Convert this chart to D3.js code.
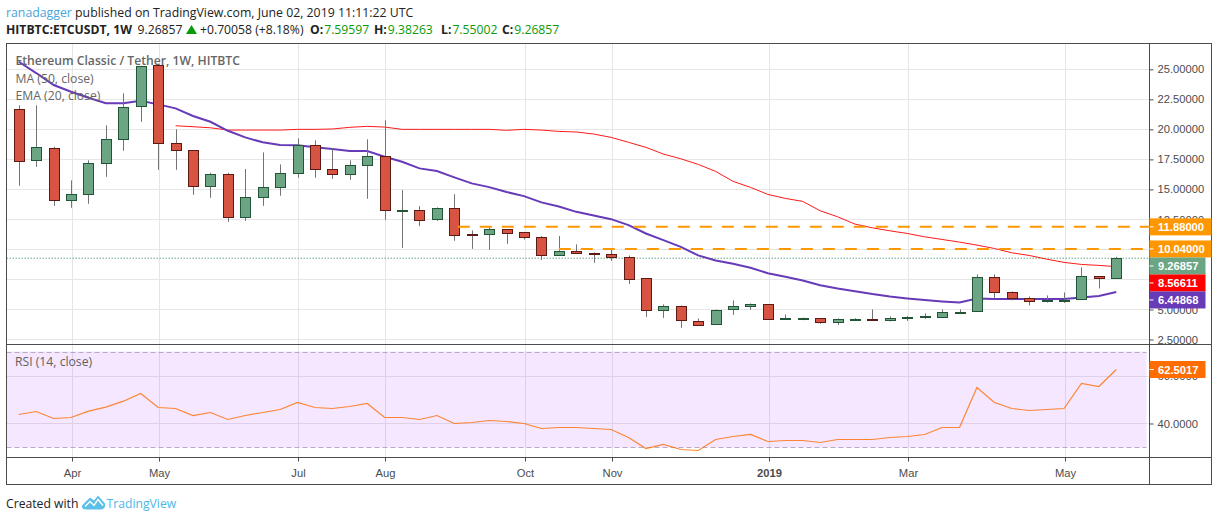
<!DOCTYPE html>
<html>
<head>
<meta charset="utf-8">
<title>ETCUSDT</title>
<script src="https://cdn.jsdelivr.net/npm/d3@7/dist/d3.min.js"></script>
<style>
  html, body { margin: 0; padding: 0; background: #fff; }
  svg { display: block; }
  text { font-family: "Open Sans", "Noto Sans", sans-serif; }
  .axis text { font-family: "Liberation Sans", sans-serif; font-size: 11.2px; fill: #4c4c4c; }
  .axis path { display: none; }
  .axis line { stroke: #4c4c4c; }
</style>
</head>
<body>
<div id="chart"></div>
<script>
var opens = [21.67,17.42,18.42,14.08,14.58,17.17,19.17,21.92,25.33,18.83,18.25,15.25,16.25,12.67,14.33,15.17,
  16.33,18.67,16.67,16.25,17.0,17.75,13.25,13.25,12.5,13.42,11.25,11.25,11.67,11.42,11.0,9.5,
  9.83,9.67,9.58,9.33,7.58,4.92,5.25,4.08,3.75,5.0,5.25,5.42,4.17,4.2,4.25,3.88,
  4.11,4.17,4.05,4.25,4.3,4.42,4.78,4.83,7.67,6.42,5.92,5.63,5.75,5.83,7.75,7.59597];
var highs = [22.0,22.0,18.55,15.75,17.42,20.33,23.0,25.3,25.35,20.0,18.25,16.38,16.38,16.7,18.08,17.08,
  19.25,19.08,18.42,17.42,19.17,20.75,14.94,13.61,13.5,14.6,11.58,11.92,11.67,11.42,11.11,11.11,
  10.42,9.75,10.08,9.5,7.58,5.42,5.33,4.25,5.0,5.75,5.5,5.42,4.58,4.32,4.25,4.25,
  4.27,5.0,4.42,4.44,4.67,5.0,5.0,7.92,7.92,6.5,6.08,6.17,6.42,8.5,7.75,9.38263];
var lows = [15.3,16.88,13.63,13.47,13.8,16.05,18.22,20.63,16.63,16.63,14.55,14.3,12.3,12.38,13.63,14.47,
  15.97,15.97,15.88,15.8,14.22,12.47,10.13,11.94,12.38,10.72,10.05,9.97,10.47,10.83,9.13,9.5,
  9.67,8.88,9.05,7.13,4.38,4.3,3.47,3.63,3.75,4.55,4.97,4.17,4.17,4.11,3.8,3.72,
  4.05,4.05,4.0,4.05,4.22,4.42,4.67,4.83,5.92,5.75,5.33,5.58,5.55,5.83,6.75,7.55002];
var closes = [17.33,18.5,14.08,14.58,17.17,19.17,21.83,25.25,18.83,18.25,15.25,16.25,12.67,14.33,15.17,16.33,
  18.67,16.67,16.25,17.0,17.75,13.25,13.32,12.42,13.42,11.17,11.2,11.67,11.33,11.0,9.5,9.83,
  9.67,9.55,9.33,7.5,4.92,5.25,4.08,3.75,4.92,5.25,5.42,4.17,4.25,4.25,3.88,4.17,
  4.17,4.05,4.25,4.36,4.42,4.83,4.83,7.67,6.42,5.92,5.67,5.75,5.83,7.75,7.58,9.26857];

var emaValues = [25.63,24.69,23.69,23.13,22.63,22.17,22.17,22.38,22.08,21.75,21.11,20.63,19.88,19.33,18.92,18.69,
  18.67,18.5,18.36,18.19,18.19,17.72,17.3,16.75,16.53,16.0,15.5,15.19,14.78,14.44,13.92,13.58,
  13.13,12.83,12.52,12.03,11.33,10.78,10.22,9.5,9.08,8.8,8.47,8.02,7.72,7.42,7.02,6.75,
  6.52,6.28,6.08,5.92,5.78,5.67,5.58,5.92,5.88,5.88,5.88,5.88,5.88,6.0,6.13,6.44868];
// the 50 week average only starts at bar 9
var maStart = 9;
var maValues = [20.3,20.22,20.13,19.94,19.94,19.94,19.94,20.0,20.0,20.03,20.17,20.25,20.19,
  20.0,20.0,20.0,20.0,20.0,20.0,19.92,20.0,19.94,19.83,19.78,19.61,19.33,18.92,18.5,17.94,17.55,17.08,16.5,
  15.67,15.17,14.58,14.25,14.0,13.22,12.72,12.11,11.8,11.55,11.33,11.05,10.83,10.61,10.36,10.08,
  9.72,9.5,9.19,8.92,8.75,8.67,8.56611];
var rsiValues = [43.75,45,42.08,42.5,45.14,46.8,49.3,52.5,46.67,46.25,43.33,44.58,41.67,43.33,44.58,45.83,
  48.75,46.67,46.25,47.08,48.33,42.5,42.5,41.67,43.33,40,40.42,41.25,40.83,40,37.92,38.33,
  38.33,37.92,37.5,34.17,29.58,31.25,29.17,28.75,33.33,34.58,35.42,32.5,32.92,32.92,32.08,33.33,
  33.33,33.33,34.17,34.58,35.42,38.33,38.33,55,48.75,46.25,45.42,45.83,46.25,56.67,55.42,62.5017];

var levelValues = [11.88, 10.04];
var levelStarts = [25.2, 31];

var priceTicks = [25, 22.5, 20, 17.5, 15, 12.5, 10, 7.5, 5, 2.5];
var rsiTicks = [60, 40];
var rsiBounds = [70, 30];
var timeTickBars = [3, 8, 16, 21, 29, 34, 43, 51, 60];
var timeTickLabels = ['Apr', 'May', 'Jul', 'Aug', 'Oct', 'Nov', '2019', 'Mar', 'May'];

var lastPrice = 9.26857;
var lastMa = 8.56611;
var lastEma = 6.44868;
var lastRsi = 62.5017;

var width = 1218, height = 521;
var plotLeft = 6.5, plotRight = 1149.5, edge = 1211.5;
var plotTop = 43.5, paneBottom = 344.5, rsiBottom = 457.5, plotBottom = 484.5;

var green = '#6ba583', greenBorder = '#225437', red = '#d75442', redBorder = '#5b1a13', wick = '#737375';
var orange = '#ff9800', purple = '#673ab7', maRed = '#ff1a1a', rsiOrange = '#ff6d00';

var bars = d3.range(closes.length).map(function(i){
  return { i: i, o: opens[i], h: highs[i], l: lows[i], c: closes[i] };
});

var x = d3.scaleLinear().domain([-0.706, 64.906]).range([plotLeft, plotRight]);
var y = d3.scaleLinear().domain([27.15, 2.083]).range([plotTop, paneBottom]);
var yRsi = d3.scaleLinear().domain([72.92, 25.83]).range([paneBottom, rsiBottom]);

var svg = d3.select('#chart').append('svg')
  .attr('width', width)
  .attr('height', height);

// grid lines sit one pixel right of the candle centres, as in the original
function crisp(v){ return Math.round(v) + 0.5; }
function gridX(bar){ return crisp(x(bar) + 0.7); }

var grid = svg.append('g').attr('stroke', '#e6e6e6').attr('stroke-width', 1);
grid.selectAll('.v').data(timeTickBars).enter().append('line')
  .attr('x1', gridX).attr('x2', gridX)
  .attr('y1', plotTop).attr('y2', rsiBottom);
grid.selectAll('.h').data(priceTicks).enter().append('line')
  .attr('x1', plotLeft).attr('x2', plotRight)
  .attr('y1', function(d){ return crisp(y(d)); })
  .attr('y2', function(d){ return crisp(y(d)); });
grid.selectAll('.r').data(rsiTicks).enter().append('line')
  .attr('x1', plotLeft).attr('x2', plotRight)
  .attr('y1', function(d){ return crisp(yRsi(d)); })
  .attr('y2', function(d){ return crisp(yRsi(d)); });

// rsi band
svg.append('rect')
  .attr('x', plotLeft)
  .attr('y', yRsi(rsiBounds[0]))
  .attr('width', plotRight - plotLeft - 3)
  .attr('height', yRsi(rsiBounds[1]) - yRsi(rsiBounds[0]))
  .attr('fill', '#9915ff')
  .attr('fill-opacity', 0.1);
svg.selectAll('.bound').data(rsiBounds).enter().append('line')
  .attr('x1', plotLeft).attr('x2', plotRight - 3)
  .attr('y1', function(d){ return crisp(yRsi(d)); })
  .attr('y2', function(d){ return crisp(yRsi(d)); })
  .attr('stroke', '#b9a9c2')
  .attr('stroke-dasharray', '5 3');

// last price line
svg.append('line')
  .attr('x1', plotLeft).attr('x2', plotRight)
  .attr('y1', y(lastPrice)).attr('y2', y(lastPrice))
  .attr('stroke', green)
  .attr('stroke-dasharray', '1.5 1.5');

// moving averages go under the candles
var priceLine = d3.line()
  .x(function(d){ return x(d.i); })
  .y(function(d){ return y(d.v); });

svg.append('path')
  .datum(maValues.map(function(v, i){ return { i: i + maStart, v: v }; }))
  .attr('d', priceLine)
  .attr('fill', 'none')
  .attr('stroke', maRed)
  .attr('stroke-width', 1);
svg.append('path')
  .datum(emaValues.map(function(v, i){ return { i: i, v: v }; }))
  .attr('d', priceLine)
  .attr('fill', 'none')
  .attr('stroke', purple)
  .attr('stroke-width', 2);

var candles = svg.selectAll('.candle').data(bars).enter().append('g').attr('class', 'candle');
candles.append('line')
  .attr('x1', function(d){ return crisp(x(d.i)); })
  .attr('x2', function(d){ return crisp(x(d.i)); })
  .attr('y1', function(d){ return y(d.h); })
  .attr('y2', function(d){ return y(d.l); })
  .attr('stroke', wick);
candles.append('rect')
  .attr('x', function(d){ return crisp(x(d.i)) - 5; })
  .attr('y', function(d){ return crisp(y(Math.max(d.o, d.c))); })
  .attr('width', 10)
  .attr('height', function(d){
    return Math.max(1, Math.round(y(Math.min(d.o, d.c)) - y(Math.max(d.o, d.c))));
  })
  .attr('fill', function(d){ return d.c >= d.o ? green : red; })
  .attr('stroke', function(d){ return d.c >= d.o ? greenBorder : redBorder; })
  .attr('stroke-width', 1);

// dashed levels
svg.selectAll('.level').data(levelValues).enter().append('line')
  .attr('x1', function(d, i){ return x(levelStarts[i]); })
  .attr('x2', plotRight)
  .attr('y1', function(d){ return y(d); })
  .attr('y2', function(d){ return y(d); })
  .attr('stroke', orange)
  .attr('stroke-width', 2)
  .attr('stroke-dasharray', '12 10');

// rsi line
svg.append('path')
  .datum(rsiValues)
  .attr('d', d3.line().x(function(d, i){ return x(i); }).y(function(d){ return yRsi(d); }))
  .attr('fill', 'none')
  .attr('stroke', rsiOrange)
  .attr('stroke-opacity', 0.8)
  .attr('stroke-width', 1.2);

// axes
svg.append('g').attr('class', 'axis')
  .attr('transform', 'translate(' + plotRight + ',0)')
  .call(d3.axisRight(y).tickValues(priceTicks).tickSize(4).tickPadding(4).tickFormat(d3.format('.5f')));
svg.append('g').attr('class', 'axis')
  .attr('transform', 'translate(' + plotRight + ',0)')
  .call(d3.axisRight(yRsi).tickValues(rsiTicks).tickSize(4).tickPadding(4).tickFormat(d3.format('.4f')));
var timeAxis = svg.append('g').attr('class', 'axis')
  .attr('transform', 'translate(0,' + rsiBottom + ')');
timeAxis.selectAll('.t').data(timeTickBars).enter().append('line')
  .attr('x1', gridX).attr('x2', gridX)
  .attr('y1', 0).attr('y2', 4);
timeAxis.selectAll('.l').data(timeTickBars).enter().append('text')
  .attr('x', gridX)
  .attr('y', 19)
  .attr('text-anchor', 'middle')
  .style('font-weight', function(d, i){ return timeTickLabels[i] === '2019' ? 'bold' : 'normal'; })
  .text(function(d, i){ return timeTickLabels[i]; });

// frame
var frame = svg.append('g').attr('stroke', '#4c4c4c').attr('stroke-width', 1).attr('fill', 'none');
frame.append('rect').attr('x', plotLeft).attr('y', plotTop).attr('width', edge - plotLeft).attr('height', plotBottom - plotTop);
frame.append('line').attr('x1', plotLeft).attr('x2', edge).attr('y1', paneBottom).attr('y2', paneBottom);
frame.append('line').attr('x1', plotLeft).attr('x2', edge).attr('y1', rsiBottom).attr('y2', rsiBottom);
frame.append('line').attr('x1', plotRight).attr('x2', plotRight).attr('y1', plotTop).attr('y2', plotBottom);

// value tags, pushed down so they stack without overlapping
var tags = [
  { v: levelValues[0], t: '11.88000', c: orange, s: y, w: 62 },
  { v: levelValues[1], t: '10.04000', c: orange, s: y, w: 62 },
  { v: lastPrice, t: '9.26857', c: green, s: y, w: 56 },
  { v: lastMa, t: '8.56611', c: '#ff0000', s: y, w: 56 },
  { v: lastEma, t: '6.44868', c: purple, s: y, w: 56 },
  { v: lastRsi, t: '62.5017', c: rsiOrange, s: yRsi, w: 56 }
];
var tagH = 17, prev = -100;
tags.forEach(function(d){
  d.y = Math.max(d.s(d.v), prev + tagH);
  prev = d.y;
});
var tag = svg.selectAll('.tag').data(tags).enter().append('g')
  .attr('transform', function(d){ return 'translate(' + plotRight + ',' + d.y + ')'; });
tag.append('rect')
  .attr('x', 0).attr('y', -tagH / 2)
  .attr('width', function(d){ return d.w; }).attr('height', tagH)
  .attr('fill', function(d){ return d.c; });
tag.append('line')
  .attr('x1', 0).attr('x2', 4)
  .attr('stroke', '#fff');
tag.append('text')
  .attr('x', 8.5).attr('y', 4)
  .attr('fill', '#fff')
  .style('font-family', '"Liberation Sans", sans-serif')
  .style('font-size', '11.2px')
  .style('font-weight', 'bold')
  .text(function(d){ return d.t; });

// legends
var legend = svg.append('g').attr('fill', '#666').style('font-size', '12.2px');
legend.append('text').attr('x', 15.5).attr('y', 65).style('font-weight', 600).text('Ethereum Classic / Tether, 1W, HITBTC');
legend.append('text').attr('x', 15.5).attr('y', 82.5).text('MA (50, close)');
legend.append('text').attr('x', 15.5).attr('y', 99.5).text('EMA (20, close)');
svg.append('text').attr('x', 15).attr('y', 366).attr('fill', '#5f5f5f').style('font-size', '12.2px').text('RSI (14, close)');

// header
var head1 = svg.append('text').attr('x', 6).attr('y', 17).style('font-size', '12.3px').attr('fill', '#222');
head1.append('tspan').attr('fill', '#4aa5dc').text('ranadagger');
head1.append('tspan').text(' published on TradingView.com, June 02, 2019 11:11:22 UTC');

var head2 = svg.append('text').attr('y', 34).style('font-size', '12.2px').attr('fill', '#222');
head2.append('tspan').attr('x', 6).style('font-weight', 'bold').text('HITBTC:ETCUSDT, 1W');
head2.append('tspan').attr('x', 137.5).text('9.26857');
svg.append('path')
  .attr('d', 'M186 34 L191.5 25 L197 34 Z')
  .attr('fill', '#0a9a0a');
head2.append('tspan').attr('x', 200).text('+0.70058 (+8.18%)');
[['O:', '7.59597', 310], ['H:', '9.38263', 374], ['L:', '7.55002', 441], ['C:', '9.26857', 502]].forEach(function(p){
  head2.append('tspan').attr('x', p[2]).style('font-weight', 'bold').text(p[0]);
  head2.append('tspan').attr('dx', 1).attr('fill', '#0a9a0a').text(p[1]);
});

// footer
svg.append('text').attr('x', 6).attr('y', 508).style('font-size', '12.2px').attr('fill', '#222').text('Created with');
var logo = svg.append('g').attr('transform', 'translate(0,-1.5)');
logo.append('path')
  .attr('d', 'M82 507 L90 499 L94 502 L98 497 L105 505 Q106 511 100 511 L87 511 Q81 511 82 507 Z')
  .attr('fill', '#5bbfe8');
logo.append('path')
  .attr('d', 'M85 508 L90 503 L94 507 L98 501 L103 507')
  .attr('fill', 'none')
  .attr('stroke', '#fff')
  .attr('stroke-width', 1.4);
svg.append('text').attr('x', 106.5).attr('y', 508).style('font-size', '12.2px').attr('fill', '#4db8e8').text('TradingView');
</script>
</body>
</html>
